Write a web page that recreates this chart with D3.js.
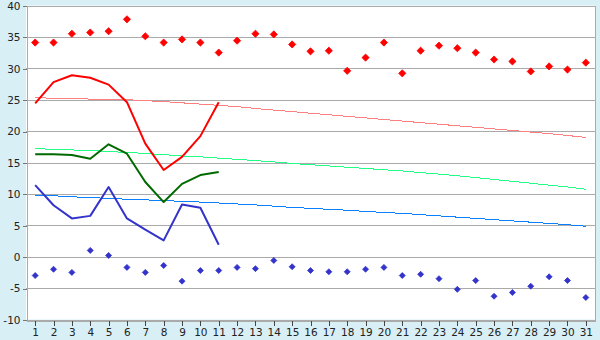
<!DOCTYPE html>
<html><head><meta charset="utf-8">
<script src="https://cdn.jsdelivr.net/npm/d3@7"></script>
<style>
html,body{margin:0;padding:0;background:#d9eff6;}
svg{display:block;}
text{font-family:"DejaVu Sans",Verdana,sans-serif;font-size:10.5px;fill:#222;}
</style></head>
<body>
<svg id="chart" width="600" height="340"></svg>
<script>
const days = d3.range(1, 32);
const yTicks = [-10, -5, 0, 5, 10, 15, 20, 25, 30, 35, 40];

const recordHigh = [34.1,34.1,35.5,35.7,35.9,37.8,35.1,34.1,34.6,34.1,32.5,34.4,35.5,35.4,33.8,32.7,32.8,29.6,31.7,34.1,29.2,32.8,33.6,33.2,32.5,31.4,31.1,29.5,30.3,29.8,30.9];
const recordLow = [-3.0,-2.0,-2.5,1.0,0.2,-1.7,-2.5,-1.4,-3.9,-2.2,-2.2,-1.7,-1.9,-0.6,-1.6,-2.2,-2.4,-2.4,-2.0,-1.7,-3.0,-2.8,-3.5,-5.2,-3.8,-6.3,-5.7,-4.7,-3.2,-3.8,-6.5];

const maxTemp = [24.4,27.8,28.9,28.5,27.4,24.6,18.0,13.8,15.9,19.2,24.6];
const meanTemp = [16.3,16.3,16.2,15.6,17.9,16.4,11.9,8.7,11.6,13.0,13.5];
const minTemp = [11.4,8.2,6.1,6.5,11.1,6.1,4.3,2.6,8.3,7.8,1.9];

const normalMax = [25.3,25.25,25.2,25.1,25.05,25.0,24.85,24.7,24.5,24.3,24.1,23.9,23.6,23.35,23.1,22.85,22.6,22.35,22.1,21.85,21.6,21.35,21.1,20.85,20.6,20.35,20.1,19.85,19.6,19.3,19.0];
const normalMean = [17.2,17.1,17.0,16.9,16.75,16.6,16.45,16.25,16.05,15.9,15.7,15.5,15.3,15.1,14.85,14.65,14.45,14.25,14.05,13.85,13.65,13.4,13.15,12.9,12.6,12.3,12.0,11.7,11.4,11.1,10.75];
const normalMin = [9.8,9.7,9.55,9.4,9.3,9.15,9.05,8.95,8.8,8.7,8.55,8.4,8.25,8.05,7.85,7.7,7.55,7.4,7.2,7.05,6.9,6.7,6.5,6.3,6.1,5.9,5.7,5.5,5.3,5.1,4.85];

const svg = d3.select("#chart");
const L = 26, R = 595, T = 5.5, B = 319.5;
const x = d3.scaleBand().domain(days).range([L, R]).padding(0);
const y = d3.scaleLinear().domain([-10, 40]).range([B, T]);
const cx = d => x(d) + x.bandwidth() / 2;

// plot background
svg.append("rect").attr("x", L).attr("y", T).attr("width", R - L).attr("height", B - T).attr("fill", "#fff");

// gridlines
svg.append("g").selectAll("line").data(yTicks).join("line")
  .attr("x1", L).attr("x2", R)
  .attr("y1", d => Math.round(y(d)) + 0.5).attr("y2", d => Math.round(y(d)) + 0.5)
  .attr("stroke", "#aaaaaa").attr("stroke-width", 1).attr("shape-rendering", "crispEdges");
// right border
svg.append("line").attr("x1", R + 0.5).attr("x2", R + 0.5).attr("y1", T).attr("y2", B + 1)
  .attr("stroke", "#aaaaaa").attr("shape-rendering", "crispEdges");

// axes
const yAxis = d3.axisLeft(y).tickValues(yTicks).tickSize(4).tickPadding(2).tickFormat(d => String(d));
const gy = svg.append("g").attr("transform", `translate(${L + 0.5},0.5)`).call(yAxis);
gy.select(".domain").attr("stroke", "#aaaaaa").attr("shape-rendering", "crispEdges");
gy.selectAll(".tick line").attr("stroke", "#777").attr("shape-rendering", "crispEdges");

const xAxis = d3.axisBottom(x).tickSize(5).tickPadding(3).tickSizeOuter(0);
const gx = svg.append("g").attr("transform", `translate(0.5,${Math.round(B) + 0.5})`).call(xAxis);
gx.select(".domain").attr("stroke", "#aaaaaa").attr("shape-rendering", "crispEdges");
gx.selectAll(".tick line").attr("stroke", "#444").attr("shape-rendering", "crispEdges");
svg.selectAll(".tick text").style("font-family", "'DejaVu Sans',Verdana,sans-serif").style("font-size", "10.5px").attr("fill", "#222");

// lines
const line = d3.line().x((d, i) => cx(days[i])).y(d => y(d));
function drawLine(data, color, w, crisp) {
  const p = svg.append("path").datum(data).attr("d", line).attr("fill", "none")
    .attr("stroke", color).attr("stroke-width", w).attr("stroke-linejoin", "round");
  if (crisp) p.attr("shape-rendering", "crispEdges");
}
drawLine(normalMax, "#ff8080", 1, true);
drawLine(normalMean, "#22ff88", 1, true);
drawLine(normalMin, "#0a80ff", 1, true);
drawLine(maxTemp, "#ff0000", 2, false);
drawLine(meanTemp, "#006a00", 2, false);
drawLine(minTemp, "#3333cc", 2, false);

// markers
function drawMarkers(data, color, r) {
  svg.append("g").selectAll("path").data(data).join("path")
    .attr("transform", (d, i) => `translate(${cx(days[i])},${y(d)})`)
    .attr("d", `M0,${-r}L${r},0L0,${r}L${-r},0Z`)
    .attr("fill", color).attr("stroke", color).attr("stroke-width", 0.8);
}
drawMarkers(recordHigh, "#ff0000", 3.6);
drawMarkers(recordLow, "#3333cc", 3.0);
</script>
</body></html>
